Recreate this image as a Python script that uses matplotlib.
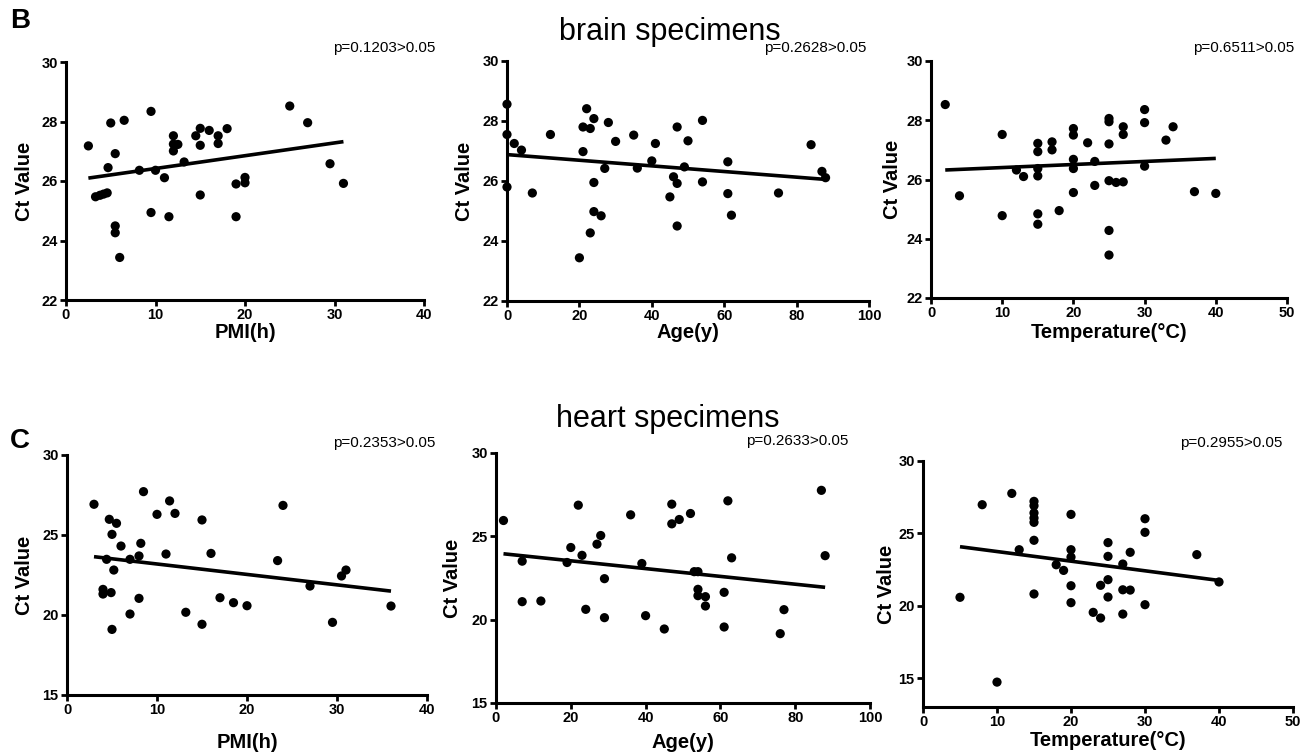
import numpy as np
import matplotlib
matplotlib.use("Agg")
import matplotlib.pyplot as plt

plt.rcParams['font.family'] = ['Liberation Sans', 'DejaVu Sans']

# ---------------- data ----------------
brain_pmi_x = [2.5, 3.3, 3.8, 4.2, 4.6, 4.7, 5.0, 5.5, 5.5, 5.5, 6.0, 6.5, 8.2, 9.5, 9.5,
               10.0, 11.0, 11.5, 12.0, 12.0, 12.0, 12.5, 13.2, 14.5, 15.0, 15.0, 15.0, 16.0,
               17.0, 17.0, 18.0, 19.0, 19.0, 20.0, 20.0, 25.0, 27.0, 29.5, 31.0]
brain_pmi_ct = [27.18, 25.47, 25.52, 25.56, 25.60, 26.45, 27.95, 26.92, 24.49, 24.26, 23.43,
                28.04, 26.36, 28.34, 24.94, 26.36, 26.11, 24.80, 27.52, 27.24, 27.01, 27.23,
                26.64, 27.52, 27.77, 27.20, 25.53, 27.70, 27.52, 27.26, 27.76, 25.90, 24.80,
                26.12, 25.94, 28.52, 27.96, 26.58, 25.92]

brain_age_x = [0, 0, 0, 2, 4, 7, 12, 20, 21, 21, 22, 23, 23, 24, 24, 24, 26, 27, 28, 30,
               35, 36, 40, 41, 45, 46, 47, 47, 47, 49, 50, 54, 54, 61, 61, 62, 75, 84, 87, 88]
brain_age_ct = [28.56, 27.55, 25.80, 27.25, 27.03, 25.60, 27.55, 23.44, 27.80, 26.98, 28.41,
                27.75, 24.27, 28.08, 25.95, 24.98, 24.84, 26.42, 27.95, 27.32, 27.53, 26.43,
                26.67, 27.25, 25.47, 26.14, 27.80, 25.92, 24.50, 26.47, 27.34, 28.02, 25.97,
                26.64, 25.58, 24.86, 25.60, 27.21, 26.32, 26.11]

brain_temp_x = [2, 4, 10, 10, 12, 13, 15, 15, 15, 15, 15, 15, 17, 17, 18, 20, 20, 20, 20, 20,
                22, 23, 23, 25, 25, 25, 25, 25, 25, 26, 27, 27, 27, 30, 30, 30, 33, 34, 37, 40]
brain_temp_ct = [28.53, 25.45, 27.52, 24.78, 26.32, 26.10, 27.22, 26.94, 26.37, 26.12, 24.84,
                 24.49, 27.27, 27.00, 24.95, 27.72, 27.50, 26.68, 26.37, 25.56, 27.24, 26.61,
                 25.80, 28.06, 27.95, 27.20, 25.96, 24.28, 23.45, 25.90, 27.78, 27.52, 25.92,
                 28.36, 27.92, 26.45, 27.33, 27.78, 25.59, 25.53]

heart_pmi_x = [3.0, 4.0, 4.0, 4.4, 4.7, 4.9, 5.0, 5.0, 5.2, 5.5, 6.0, 7.0, 7.0, 8.0, 8.0, 8.2,
               8.5, 10.0, 11.0, 11.4, 12.0, 13.2, 15.0, 15.0, 16.0, 17.0, 18.5, 20.0, 23.4,
               24.0, 27.0, 29.5, 30.5, 31.0, 36.0]
heart_pmi_ct = [26.92, 21.60, 21.31, 23.48, 25.98, 21.40, 25.04, 19.10, 22.81, 25.73, 24.31,
                23.48, 20.06, 23.69, 21.04, 24.48, 27.71, 26.29, 23.81, 27.13, 26.35, 20.17,
                25.94, 19.42, 23.85, 21.08, 20.77, 20.58, 23.40, 26.85, 21.81, 19.54, 22.44,
                22.81, 20.56]

heart_age_x = [2, 7, 7, 12, 19, 20, 22, 23, 24, 27, 28, 29, 29, 36, 39, 40, 45, 47, 47, 49,
               52, 53, 54, 54, 54, 56, 56, 61, 61, 62, 63, 76, 77, 87, 88]
heart_age_ct = [25.95, 23.51, 21.08, 21.12, 23.43, 24.33, 26.87, 23.86, 20.62, 24.53, 25.05,
                22.46, 20.12, 26.29, 23.37, 20.24, 19.44, 26.93, 25.75, 26.01, 26.37, 22.88,
                22.88, 21.82, 21.44, 21.38, 20.82, 21.64, 19.56, 27.13, 23.71, 19.16, 20.60,
                27.76, 23.84]

heart_temp_x = [5, 8, 10, 12, 13, 15, 15, 15, 15, 15, 15, 15, 18, 19, 20, 20, 20, 20, 20, 23,
                24, 24, 25, 25, 25, 25, 27, 27, 27, 28, 28, 30, 30, 30, 37, 40]
heart_temp_ct = [20.58, 26.98, 14.72, 27.76, 23.87, 27.21, 26.91, 26.41, 26.06, 25.76, 24.52,
                 20.81, 22.83, 22.44, 26.31, 23.87, 23.36, 21.38, 20.21, 19.54, 21.41, 19.15,
                 24.36, 23.41, 21.80, 20.60, 22.88, 21.10, 19.42, 23.69, 21.08, 26.01, 25.07,
                 20.07, 23.53, 21.64]

# regression lines as drawn in the figure (intercept, slope)
fit_intercepts = [25.99, 26.88, 26.30, 23.84, 24.00, 24.41]
fit_slopes = [0.0430, -0.0094, 0.0103, -0.0652, -0.0234, -0.0666]

p_texts = ["p=0.1203>0.05", "p=0.2628>0.05", "p=0.6511>0.05",
           "p=0.2353>0.05", "p=0.2633>0.05", "p=0.2955>0.05"]
x_labels = ["PMI(h)", "Age(y)", "Temperature(°C)", "PMI(h)", "Age(y)", "Temperature(°C)"]
y_label = "Ct Value"
row_titles = ["brain specimens", "heart specimens"]
panel_letters = ["B", "C"]

# ---------------- layout (pixels) ----------------
W, H = 1312, 754
fig = plt.figure(figsize=(W / 100, H / 100), dpi=100)

# (left, top, right, bottom) in pixels
boxes = [(66, 62, 424, 300), (507, 61, 869, 301), (931, 61, 1287, 298),
         (67, 455, 427, 695), (496, 453, 870, 703), (923, 461, 1293, 707)]
xlims = [(0, 40), (0, 100), (0, 50), (0, 40), (0, 100), (0, 50)]
xticks = [np.arange(0, 41, 10), np.arange(0, 101, 20), np.arange(0, 51, 10)] * 2
ylims = [(22, 30), (22, 30), (22, 30), (15, 30), (15, 30), (13, 30)]
yticks = [np.arange(22, 31, 2)] * 3 + [np.arange(15, 31, 5)] * 3
p_pos = [(435, 48), (866, 48), (1294, 48), (435, 443), (848, 441), (1282, 443)]
xlabel_y = [333, 333, 333, 742, 742, 741]
ylabel_x = [25, 465, 893, 25, 452, 887]

datasets = [(brain_pmi_x, brain_pmi_ct), (brain_age_x, brain_age_ct),
            (brain_temp_x, brain_temp_ct), (heart_pmi_x, heart_pmi_ct),
            (heart_age_x, heart_age_ct), (heart_temp_x, heart_temp_ct)]

for i, ((xs, ys), (l, t, r, b)) in enumerate(zip(datasets, boxes)):
    ax = fig.add_axes([l / W, 1 - b / H, (r - l) / W, (b - t) / H])
    xs = np.asarray(xs, float)
    ys = np.asarray(ys, float)
    ax.scatter(xs, ys, s=44, color='black', edgecolors='none', zorder=3, clip_on=False)
    xx = np.array([xs.min(), xs.max()])
    ax.plot(xx, fit_intercepts[i] + fit_slopes[i] * xx, color='black', lw=2.6,
            solid_capstyle='butt', zorder=4)

    ax.set_xlim(*xlims[i])
    ax.set_ylim(*ylims[i])
    ax.set_xticks(xticks[i])
    ax.set_yticks(yticks[i])
    for s in ['top', 'right']:
        ax.spines[s].set_visible(False)
    for s in ['left', 'bottom']:
        ax.spines[s].set_linewidth(2.2)
    ax.tick_params(direction='out', length=4, width=2.0, labelsize=10.5, pad=2)
    for lab in ax.get_xticklabels() + ax.get_yticklabels():
        lab.set_fontweight('bold')

    ax.set_xlabel(x_labels[i], fontsize=14.5, fontweight='bold')
    ax.xaxis.label.set_verticalalignment('center')
    ax.xaxis.set_label_coords(0.5, -(xlabel_y[i] - b) / (b - t))
    ax.set_ylabel(y_label, fontsize=14.5, fontweight='bold')
    ax.yaxis.label.set_verticalalignment('center')
    ax.yaxis.set_label_coords(-(l - ylabel_x[i]) / (r - l), 0.5)

    px, py = p_pos[i]
    fig.text(px / W, 1 - py / H, p_texts[i], ha='right', va='center', fontsize=11)

fig.text(670 / W, 1 - 32 / H, row_titles[0], ha='center', va='center', fontsize=22)
fig.text(668 / W, 1 - 419 / H, row_titles[1], ha='center', va='center', fontsize=22)
fig.text(10 / W, 1 - 21 / H, panel_letters[0], ha='left', va='center', fontsize=20, fontweight='bold')
fig.text(10 / W, 1 - 441 / H, panel_letters[1], ha='left', va='center', fontsize=20, fontweight='bold')

fig.savefig("out.png", dpi=100, facecolor='white')
